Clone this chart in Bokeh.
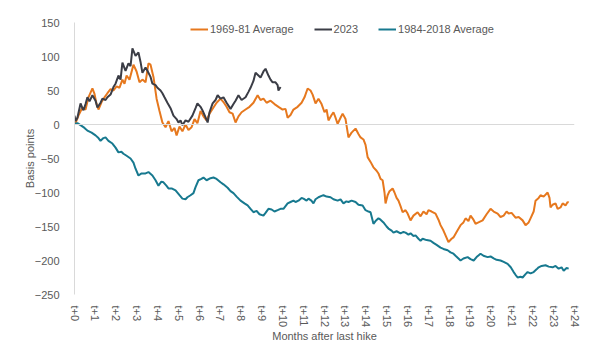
from bokeh.plotting import figure
from bokeh.models import Range1d, FixedTicker, Span, Legend, LegendItem
from bokeh.embed import file_html
from bokeh.resources import INLINE

# ---- data (months after last hike, basis points) ----
months_6981 = [0.05, 0.19, 0.38, 0.53, 0.67, 0.86, 0.96, 1.06, 1.15, 1.30, 1.44, 1.58, 1.73, 1.87, 2.02,
               2.16, 2.30, 2.40, 2.50, 2.64, 2.83, 2.98, 3.12, 3.26, 3.41, 3.55, 3.65, 3.79, 3.94, 4.08,
               4.22, 4.37, 4.51, 4.66, 4.80, 4.90, 5.04, 5.18, 5.33, 5.47, 5.62, 5.76, 5.90, 6.05, 6.19,
               6.34, 6.48, 6.67, 6.82, 7.01, 7.15, 7.30, 7.44, 7.59, 7.73, 7.87, 8.02, 8.21, 8.40, 8.59,
               8.79, 8.93, 9.07, 9.22, 9.41, 9.60, 9.79, 9.99, 10.13, 10.23, 10.37, 10.51, 10.71, 10.90,
               11.04, 11.19, 11.33, 11.43, 11.57, 11.71, 11.86, 12.00, 12.10, 12.19, 12.34, 12.43, 12.53,
               12.63, 12.77, 12.87, 13.01, 13.15, 13.30, 13.49, 13.63, 13.73, 13.87, 13.97, 14.07, 14.21,
               14.35, 14.50, 14.59, 14.69, 14.79, 14.88, 14.93, 15.03, 15.12, 15.27, 15.36, 15.46, 15.55,
               15.65, 15.75, 15.89, 15.99, 16.13, 16.27, 16.47, 16.61, 16.75, 16.90, 16.99, 17.14, 17.33,
               17.47, 17.57, 17.71, 17.81, 17.95, 18.10, 18.19, 18.34, 18.53, 18.67, 18.77, 18.91, 19.01,
               19.15, 19.25, 19.39, 19.59, 19.78, 19.97, 20.12, 20.31, 20.45, 20.60, 20.74, 20.84, 20.98,
               21.17, 21.32, 21.51, 21.65, 21.80, 21.89, 22.04, 22.13, 22.28, 22.37, 22.52, 22.71, 22.80,
               22.85, 22.95, 23.09, 23.19, 23.33, 23.43, 23.57, 23.67, 23.72]
values_6981 = [2, 13, 25, 22, 40, 53, 45, 30, 22, 33, 40, 46, 52, 50, 56,
               54, 66, 60, 72, 66, 88, 78, 62, 66, 62, 90, 88, 70, 38, 20,
               3, -4, 5, -10, -5, -16, -3, -10, 0, -8, -4, 8, 2, 20, 12,
               6, 16, 25, 32, 38, 33, 26, 18, 16, 3, 12, 18, 22, 26, 32,
               43, 36, 38, 32, 35, 30, 26, 22, 23, 10, 14, 22, 26, 32,
               40, 53, 50, 44, 31, 38, 30, 18, 22, 6, 14, 18, 10,
               1, 10, 16, 8, -19, -12, -6, -14, -19, -22, -30, -48, -55,
               -63, -68, -72, -80, -82, -100, -116, -104, -98, -94, -100, -108, -112,
               -120, -129, -126, -131, -141, -134, -129, -135, -128, -132, -126, -128, -131,
               -140, -148, -156, -163, -173, -168, -166, -158, -148, -144, -138, -142, -134,
               -140, -146, -144, -141, -132, -124, -128, -131, -136, -134, -128, -131, -130,
               -137, -136, -141, -148, -144, -138, -128, -112, -108, -104, -106, -100, -108,
               -122, -118, -116, -124, -122, -116, -119, -114, -115]

months_2023 = [0, 0.05, 0.14, 0.29, 0.38, 0.43, 0.53, 0.62, 0.72, 0.86, 1.01, 1.10, 1.25, 1.34, 1.49,
               1.58, 1.73, 1.87, 1.97, 2.11, 2.21, 2.30, 2.45, 2.59, 2.69, 2.78, 2.93, 3.07, 3.17, 3.26,
               3.41, 3.50, 3.65, 3.74, 3.89, 3.98, 4.13, 4.22, 4.32, 4.46, 4.61, 4.75, 4.90, 4.99, 5.09,
               5.18, 5.33, 5.47, 5.66, 5.81, 5.90, 6.05, 6.14, 6.24, 6.39, 6.48, 6.63, 6.77, 6.87, 7.01,
               7.15, 7.30, 7.49, 7.63, 7.73, 7.87, 8.02, 8.21, 8.35, 8.45, 8.59, 8.69, 8.83, 8.93, 9.07,
               9.17, 9.31, 9.41, 9.51, 9.65, 9.75, 9.79, 9.89]
values_2023 = [13, 5, 10, 31, 24, 21, 30, 40, 34, 43, 35, 25, 32, 38, 36,
               40, 44, 55, 60, 72, 66, 91, 79, 90, 86, 112, 101, 106, 92, 76,
               84, 79, 70, 60, 58, 54, 50, 46, 40, 32, 24, 13, 8, 3, 6,
               -1, 6, 4, 13, 24, 31, 26, 21, 14, 3, 18, 31, 36, 43, 38,
               40, 32, 23, 30, 35, 43, 36, 40, 48, 54, 64, 76, 72, 69, 78,
               82, 72, 66, 62, 62, 58, 50, 55]

months_8418 = [0, 0.14, 0.29, 0.48, 0.62, 0.82, 1.01, 1.15, 1.25, 1.39, 1.49, 1.63, 1.82, 1.97, 2.11,
               2.25, 2.35, 2.50, 2.69, 2.83, 2.93, 3.07, 3.22, 3.41, 3.55, 3.74, 3.89, 4.03, 4.17, 4.27,
               4.41, 4.51, 4.66, 4.85, 5.04, 5.18, 5.33, 5.42, 5.57, 5.71, 5.81, 5.95, 6.09, 6.19, 6.34,
               6.53, 6.67, 6.82, 7.01, 7.15, 7.35, 7.49, 7.63, 7.78, 7.97, 8.16, 8.31, 8.45, 8.59, 8.74,
               8.88, 9.07, 9.17, 9.31, 9.46, 9.60, 9.75, 9.89, 10.03, 10.13, 10.23, 10.37, 10.51, 10.61,
               10.75, 10.90, 10.99, 11.14, 11.23, 11.37, 11.47, 11.57, 11.71, 11.86, 11.95, 12.10, 12.29,
               12.43, 12.63, 12.77, 12.91, 13.05, 13.15, 13.30, 13.49, 13.63, 13.83, 13.97, 14.11, 14.21,
               14.35, 14.45, 14.59, 14.69, 14.83, 14.98, 15.07, 15.22, 15.31, 15.46, 15.65, 15.79, 15.89,
               16.03, 16.13, 16.27, 16.37, 16.51, 16.61, 16.71, 16.90, 17.09, 17.23, 17.38, 17.57, 17.71,
               17.91, 18.05, 18.19, 18.29, 18.43, 18.53, 18.67, 18.87, 19.01, 19.16, 19.30, 19.49, 19.63,
               19.83, 19.97, 20.12, 20.26, 20.45, 20.60, 20.79, 20.94, 21.08, 21.17, 21.27, 21.41, 21.51,
               21.65, 21.75, 21.89, 22.04, 22.18, 22.28, 22.42, 22.61, 22.76, 22.95, 23.09, 23.24, 23.38,
               23.48, 23.62, 23.72]
values_8418 = [1, 2, -1, -5, -9, -12, -16, -20, -24, -20, -19, -24, -28, -34, -41,
               -40, -43, -46, -50, -56, -65, -75, -72, -72, -70, -75, -82, -90, -84, -85,
               -90, -94, -94, -97, -104, -109, -110, -107, -104, -101, -92, -82, -80, -78, -82,
               -79, -78, -80, -85, -88, -93, -98, -101, -106, -112, -116, -119, -124, -129, -127,
               -132, -134, -130, -124, -125, -128, -126, -124, -124, -120, -116, -114, -112, -114,
               -112, -108, -109, -112, -109, -112, -116, -110, -107, -105, -104, -106, -107,
               -110, -112, -110, -116, -113, -114, -112, -114, -118, -119, -126, -128, -129,
               -146, -142, -138, -140, -144, -150, -153, -156, -159, -157, -160, -158, -159,
               -162, -160, -164, -163, -168, -171, -168, -170, -171, -174, -177, -181, -183,
               -185, -188, -190, -193, -197, -200, -197, -195, -198, -200, -195, -190, -193,
               -195, -194, -197, -199, -200, -202, -205, -210, -217, -221, -225, -224, -225,
               -220, -217, -219, -217, -213, -210, -208, -207, -209, -210, -208, -212, -210,
               -215, -211, -212]

tick_months = list(range(25))
tick_labels = [f"t+{m}" for m in tick_months]
y_ticks = [150, 100, 50, 0, -50, -100, -150, -200, -250]

ORANGE = "#E6781E"
DARK = "#3B3D46"
TEAL = "#17798F"
TEXT = "#595959"
FONT = "Liberation Sans"

p = figure(width=615, height=352, output_backend="svg", toolbar_location=None,
           x_range=Range1d(0, 24), y_range=Range1d(-250, 150),
           min_border_left=74, min_border_right=41, min_border_top=22, min_border_bottom=58)
p.outline_line_color = None
p.xgrid.grid_line_color = None
p.ygrid.grid_line_color = None

p.add_layout(Span(location=0, dimension="width", line_color="#D9D9D9", line_width=1))

r1 = p.line(months_6981, values_6981, line_color=ORANGE, line_width=2)
r2 = p.line(months_2023, values_2023, line_color=DARK, line_width=2)
r3 = p.line(months_8418, values_8418, line_color=TEAL, line_width=2)

# axes
p.xaxis.ticker = FixedTicker(ticks=tick_months)
p.xaxis.major_label_overrides = {m: l for m, l in zip(tick_months, tick_labels)}
p.xaxis.major_label_orientation = "vertical"
p.xaxis.axis_line_color = None
p.xaxis.major_tick_line_color = None
p.xaxis.minor_tick_line_color = None
p.xaxis.major_label_standoff = 5
p.xaxis.axis_label = "Months after last hike"
p.xaxis.axis_label_standoff = 0

p.yaxis.ticker = FixedTicker(ticks=y_ticks)
p.yaxis.axis_line_color = "#D9D9D9"
p.yaxis.major_tick_line_color = None
p.yaxis.minor_tick_line_color = None
p.yaxis.major_label_standoff = 9
p.yaxis.axis_label = "Basis points"
p.yaxis.axis_label_standoff = -4

for ax in (p.xaxis[0], p.yaxis[0]):
    ax.major_label_text_font = FONT
    ax.major_label_text_font_size = "11px"
    ax.major_label_text_color = TEXT
    ax.axis_label_text_font = FONT
    ax.axis_label_text_font_size = "11px"
    ax.axis_label_text_font_style = "normal"
    ax.axis_label_text_color = TEXT

legend = Legend(items=[LegendItem(label="1969-81 Average", renderers=[r1]),
                       LegendItem(label="2023", renderers=[r2]),
                       LegendItem(label="1984-2018 Average", renderers=[r3])],
                orientation="horizontal", location=(116, 258),
                padding=0, margin=0, spacing=20, glyph_width=18, glyph_height=14,
                label_standoff=2, label_height=14,
                label_text_font=FONT, label_text_font_size="11px", label_text_color=TEXT,
                background_fill_alpha=0, border_line_color=None)
p.add_layout(legend)

open("out.html", "w").write(file_html(p, INLINE))
